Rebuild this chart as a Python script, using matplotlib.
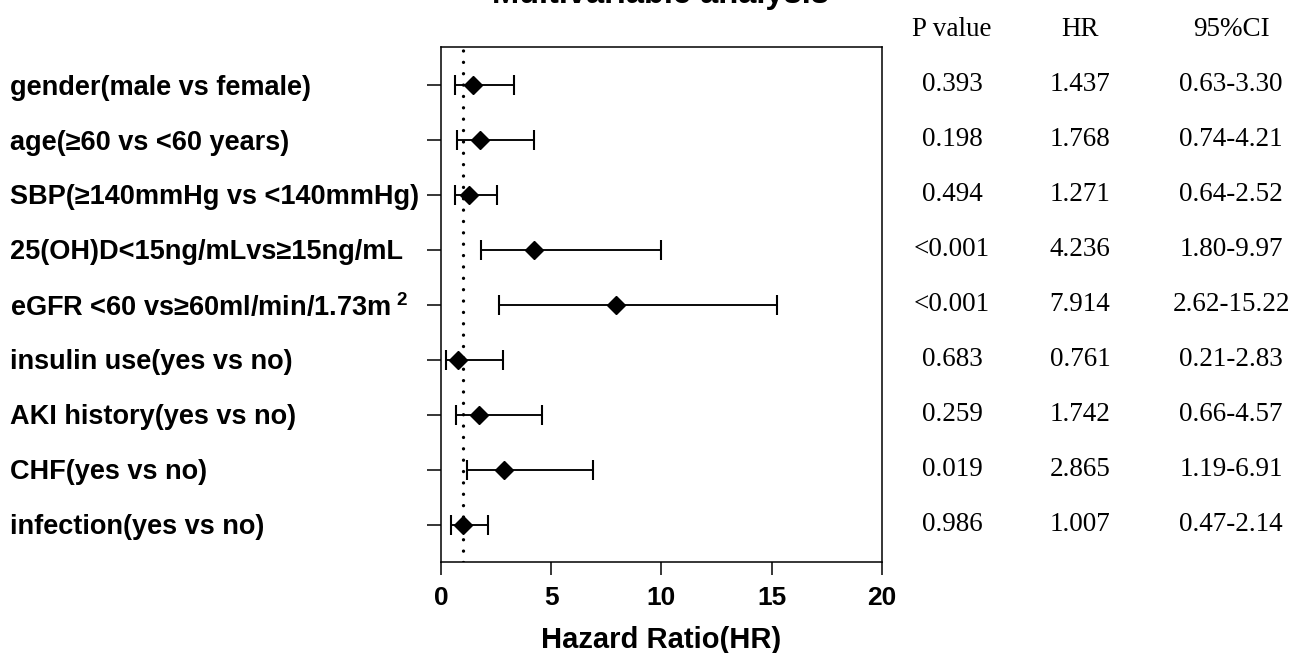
import matplotlib
matplotlib.use("Agg")
import matplotlib.pyplot as plt
import matplotlib.transforms as mtransforms
import numpy as np

# Data
labels = ["gender(male vs female)",
          "age(≥60 vs <60 years)",
          "SBP(≥140mmHg vs <140mmHg)",
          "25(OH)D<15ng/mLvs≥15ng/mL",
          "eGFR <60 vs≥60ml/min/1.73m$^{\\ 2}$",
          "insulin use(yes vs no)",
          "AKI history(yes vs no)",
          "CHF(yes vs no)",
          "infection(yes vs no)"]
hr = [1.437, 1.768, 1.271, 4.236, 7.914, 0.761, 1.742, 2.865, 1.007]
ci_low = [0.63, 0.74, 0.64, 1.80, 2.62, 0.21, 0.66, 1.19, 0.47]
ci_high = [3.30, 4.21, 2.52, 9.97, 15.22, 2.83, 4.57, 6.91, 2.14]
p_values = ["0.393", "0.198", "0.494", "<0.001", "<0.001", "0.683", "0.259", "0.019", "0.986"]
ci_text = ["0.63-3.30", "0.74-4.21", "0.64-2.52", "1.80-9.97", "2.62-15.22",
           "0.21-2.83", "0.66-4.57", "1.19-6.91", "0.47-2.14"]
x_ticks = [0, 5, 10, 15, 20]

plt.rcParams["font.family"] = ["Liberation Sans", "DejaVu Sans"]
plt.rcParams["mathtext.fontset"] = "custom"
plt.rcParams["mathtext.rm"] = "Liberation Sans:bold"
plt.rcParams["mathtext.it"] = "Liberation Sans:bold"
plt.rcParams["mathtext.bf"] = "Liberation Sans:bold"

W, H = 1308, 653
fig = plt.figure(figsize=(W / 100, H / 100), dpi=100)
ax = fig.add_axes([441 / W, 1 - 562 / H, 441 / W, 515 / H])

y = np.arange(1, len(labels) + 1)
hr_a = np.array(hr)
lo = np.array(ci_low)
hi = np.array(ci_high)

# reference line at HR = 1
ax.axvline(1, color="black", lw=2.4, linestyle=(0, (0.01, 3.4)),
           dash_capstyle="round", zorder=1)

ax.errorbar(hr_a, y, xerr=[hr_a - lo, hi - hr_a], fmt="none",
            ecolor="black", elinewidth=1.35, capsize=7, capthick=1.5, zorder=2)
ax.plot(hr_a, y, "D", color="black", markersize=9.6, zorder=3)

ax.set_xlim(0, 20)
ax.set_ylim(9.68, 0.3)
ax.set_xticks(x_ticks)
ax.set_xticklabels([str(t) for t in x_ticks], fontsize=19, fontweight="bold")
ax.set_yticks(y)
ax.set_yticklabels([])
ax.tick_params(axis="x", length=9.5, width=1.1, pad=8)
ax.tick_params(axis="y", length=10, width=1.1)
for s in ax.spines.values():
    s.set_linewidth(1.1)

ax.set_xlabel("Hazard Ratio(HR)", fontsize=21, fontweight="bold", labelpad=11)

# row labels, left aligned at the figure edge
trans = mtransforms.blended_transform_factory(fig.transFigure, ax.transData)
for yi, lab in zip(y, labels):
    fig.text(10 / W, yi + 0.04, lab, transform=trans, ha="left", va="center",
             fontsize=19.5, fontweight="bold")

# right-hand table
serif = "Liberation Serif"
cols_x = [952 / W, 1080 / W, 1231 / W]
headers = ["P value", "HR", "95%CI"]
for cx, head in zip(cols_x, headers):
    fig.text(cx, 1 - 29 / H, head, ha="center", va="center",
             fontsize=19.5, family=serif)
for yi, p, h, c in zip(y, p_values, hr, ci_text):
    for cx, t in zip(cols_x, [p, f"{h:.3f}", c]):
        fig.text(cx, yi - 0.01, t, transform=trans, ha="center", va="center",
                 fontsize=19.5, family=serif)

# title, cut off at the top of the image as in the original
fig.text(660 / W, 1 - 3 / H, "Multivariable analysis", ha="center",
         va="baseline", fontsize=23.5, fontweight="bold")

fig.savefig("out.png", dpi=100)
